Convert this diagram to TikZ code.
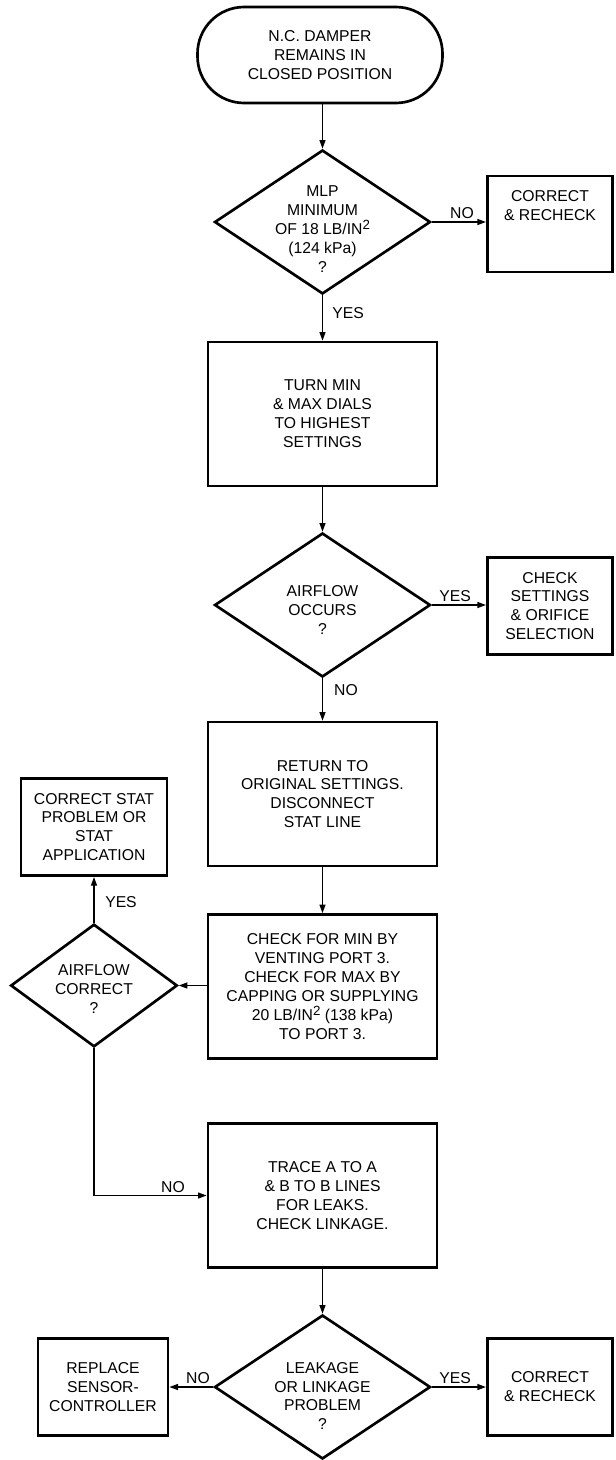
\documentclass[tikz,border=0pt]{standalone}
\usepackage{fontspec}
\setmainfont{Liberation Sans}
\usetikzlibrary{shapes.geometric,arrows.meta}

\newcommand{\sqr}{\raisebox{0.55ex}{\fontsize{10}{10}\selectfont 2}}

\tikzset{
	stadium/.style={draw, line width=2pt, align=center, rounded corners=35pt, minimum width=183.75pt, minimum height=72pt},
	box/.style={draw, line width=2pt, align=center, inner sep=2pt, minimum width=171.75pt, minimum height=108pt},
	sidebox/.style={draw, line width=2pt, align=center, inner sep=2pt, minimum height=73pt},
	dec/.style={draw, line width=2pt, shape=diamond, inner sep=0pt, minimum width=162pt, minimum height=108pt},
	smalldec/.style={dec, minimum width=125pt, minimum height=92pt},
	txt/.style={align=center, inner sep=0pt},
	lbl/.style={inner sep=0pt},
	flow/.style={line width=1pt, ->}
}

\begin{document}
\begin{tikzpicture}[x=0.75pt, y=-0.75pt, font=\fontsize{11.8}{14.2}\selectfont, >={Triangle[length=6.5pt,width=4.5pt]}]

	\useasboundingbox (0,0) rectangle (615,1460);

	\node [stadium] (start) at (320,55) {N.C. DAMPER\\REMAINS IN\\CLOSED POSITION};

	\node [dec] (mlp) at (322.5,222) {};
	\node [txt] (mlpt) at (322.5,229) {MLP\\MINIMUM\\OF 18 LB/IN\sqr\\(124 kPa)\\?};
	\node [sidebox, minimum width=94pt, minimum height=72pt] (fix1) at (550,224) {CORRECT\\\& RECHECK\\~\\~};

	\node [box] (dials) at (322.5,414) {TURN MIN\\\& MAX DIALS\\TO HIGHEST\\SETTINGS};

	\node [dec] (air1) at (322.5,605) {};
	\node [txt] (air1t) at (322.5,610) {AIRFLOW\\OCCURS\\?};
	\node [sidebox, minimum width=94pt] (orif) at (550,606) {CHECK\\SETTINGS\\\& ORIFICE\\SELECTION};

	\node [box] (ret) at (322.5,794) {RETURN TO\\ORIGINAL SETTINGS.\\DISCONNECT\\STAT LINE};

	\node [box] (port) at (322.5,986.5) {CHECK FOR MIN BY\\VENTING PORT 3.\\CHECK FOR MAX BY\\CAPPING OR SUPPLYING\\20 LB/IN\sqr{} (138 kPa)\\TO PORT 3.};

	\node [smalldec] (air2) at (94,985.5) {};
	\node [txt] (air2t) at (94,989) {AIRFLOW\\CORRECT\\?};
	\node [sidebox, minimum width=109.5pt] (stat) at (94,827) {CORRECT STAT\\PROBLEM OR\\STAT\\APPLICATION};

	\node [box] (trace) at (322.5,1195.5) {TRACE A TO A\\\& B TO B LINES\\FOR LEAKS.\\CHECK LINKAGE.};

	\node [dec] (leak) at (322.5,1387) {};
	\node [txt] (leakt) at (322.5,1396) {LEAKAGE\\OR LINKAGE\\PROBLEM\\?};
	\node [sidebox, minimum width=97.5pt] (repl) at (103,1387) {REPLACE\\SENSOR-\\CONTROLLER};
	\node [sidebox, minimum width=94pt] (fix2) at (550,1387) {CORRECT\\\& RECHECK};

	\draw [flow] (mlp.north |- start.south) -- (mlp.north);
	\draw [flow] (mlp.east) -- (mlp.east -| fix1.west);
	\node [lbl] (no1) at (462,213) {NO};
	\draw [flow] (mlp.south) -- (dials);
	\node [lbl] (yes1) at (348,313) {YES};

	\draw [flow] (dials) -- (air1.north);
	\draw [flow] (air1.east) -- (air1.east -| orif.west);
	\node [lbl] (yes2) at (455,596) {YES};
	\draw [flow] (air1.south) -- (ret);
	\node [lbl] (no2) at (346,690) {NO};

	\draw [flow] (ret) -- (port);
	\draw [flow] (port.west |- air2.east) -- (air2.east);
	\draw [flow] (air2.north) -- (stat);
	\node [lbl] (yes3) at (121,902) {YES};
	\draw [flow] (air2.south) |- (trace.west);
	\node [lbl] (no3) at (173,1187) {NO};

	\draw [flow] (trace) -- (leak.north);
	\draw [flow] (leak.west) -- (repl);
	\node [lbl] (no4) at (198,1378) {NO};
	\draw [flow] (leak.east) -- (fix2);
	\node [lbl] (yes4) at (455,1378) {YES};
\end{tikzpicture}
\end{document}
